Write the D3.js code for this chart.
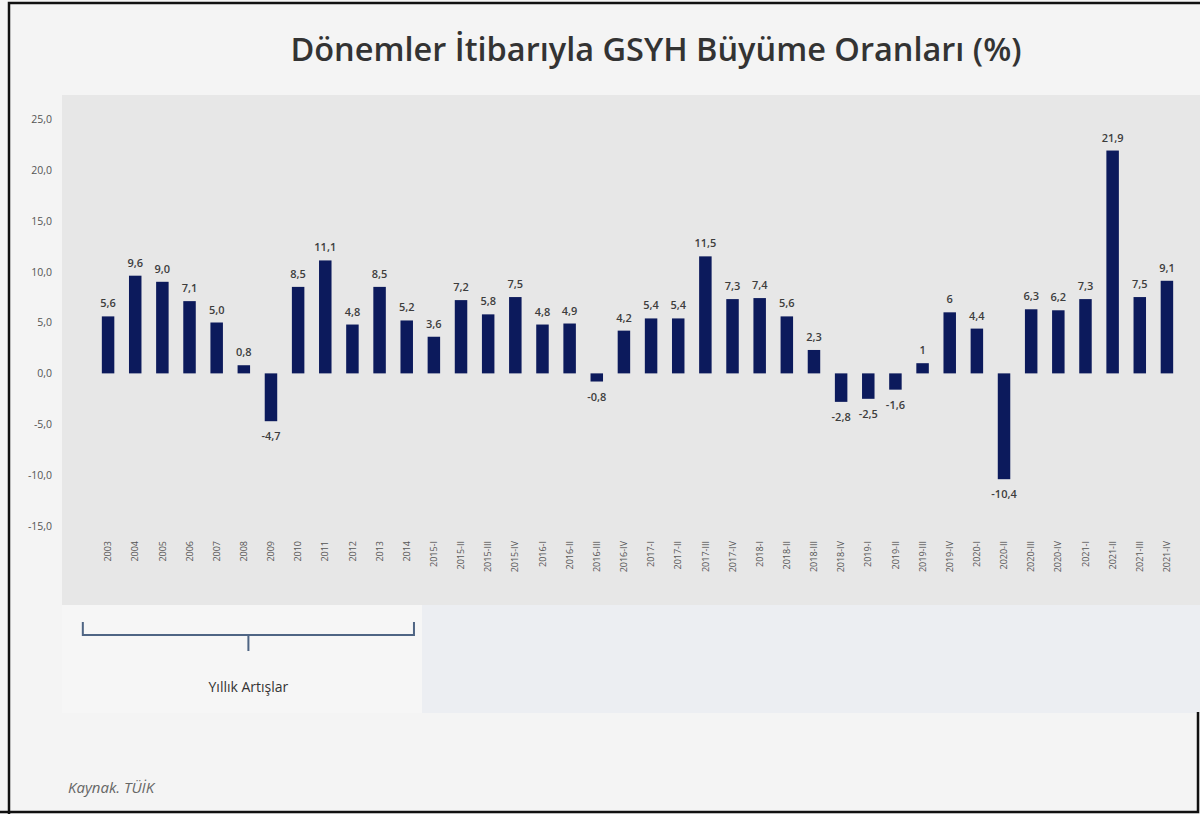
<!DOCTYPE html>
<html>
<head>
<meta charset="utf-8">
<script src="https://cdn.jsdelivr.net/npm/d3@7"></script>
<style>
  body { margin: 0; background: #f4f4f4; }
  svg { display: block; font-family: "Open Sans", sans-serif; }
</style>
</head>
<body>
<div id="container"></div>
<script>
/* CONSTANTS AND GLOBALS */
const width = 1200,
  height = 814

// periods: yearly up to 2014, then quarters
const periods = ["2003", "2004", "2005", "2006", "2007", "2008", "2009", "2010", "2011", "2012", "2013", "2014",
  "2015-I", "2015-II", "2015-III", "2015-IV",
  "2016-I", "2016-II", "2016-III", "2016-IV",
  "2017-I", "2017-II", "2017-III", "2017-IV",
  "2018-I", "2018-II", "2018-III", "2018-IV",
  "2019-I", "2019-II", "2019-III", "2019-IV",
  "2020-I", "2020-II", "2020-III", "2020-IV",
  "2021-I", "2021-II", "2021-III", "2021-IV"]

const growth = [5.6, 9.6, 9.0, 7.1, 5.0, 0.8, -4.7, 8.5, 11.1, 4.8, 8.5, 5.2,
  3.6, 7.2, 5.8, 7.5,
  4.8, 4.9, -0.8, 4.2,
  5.4, 5.4, 11.5, 7.3,
  7.4, 5.6, 2.3, -2.8,
  -2.5, -1.6, 1, 6,
  4.4, -10.4, 6.3, 6.2,
  7.3, 21.9, 7.5, 9.1]

// how each value is printed above / below its bar
const valueLabels = ["5,6", "9,6", "9,0", "7,1", "5,0", "0,8", "-4,7", "8,5", "11,1", "4,8", "8,5", "5,2",
  "3,6", "7,2", "5,8", "7,5",
  "4,8", "4,9", "-0,8", "4,2",
  "5,4", "5,4", "11,5", "7,3",
  "7,4", "5,6", "2,3", "-2,8",
  "-2,5", "-1,6", "1", "6",
  "4,4", "-10,4", "6,3", "6,2",
  "7,3", "21,9", "7,5", "9,1"]

const yTicks = [-15, -10, -5, 0, 5, 10, 15, 20, 25]
const yearlyGroup = ["2003", "2014"]

const data = periods.map((p, i) => ({ period: p, value: growth[i], label: valueLabels[i] }))

// + CREATE SVG ELEMENT
const svg = d3.select("#container")
  .append("svg")
  .attr("width", width)
  .attr("height", height)

// background panels (slide look)
svg.append("rect").attr("x", 0).attr("y", 0).attr("width", width).attr("height", height).attr("fill", "#f4f4f4")
svg.append("rect").attr("x", 62).attr("y", 95).attr("width", 1138).attr("height", 618).attr("fill", "#eceef2")
svg.append("rect").attr("x", 62).attr("y", 605).attr("width", 360).attr("height", 108).attr("fill", "#f6f6f6")
svg.append("rect").attr("x", 62).attr("y", 95).attr("width", 1138).attr("height", 510).attr("fill", "#e7e7e7")

// frame
svg.append("path")
  .attr("d", "M9,814 V3 H1200")
  .attr("fill", "none").attr("stroke", "#111").attr("stroke-width", 2.5)
svg.append("path")
  .attr("d", "M0,812 H1198 V712")
  .attr("fill", "none").attr("stroke", "#111").attr("stroke-width", 2.5)

// + TITLE
svg.append("text")
  .attr("x", 656)
  .attr("y", 61)
  .attr("text-anchor", "middle")
  .attr("font-size", 32.5)
  .attr("font-weight", 600)
  .attr("fill", "#333")
  .text("Dönemler İtibarıyla GSYH Büyüme Oranları (%)")

// + SCALES
const xScale = d3.scaleBand()
  .domain(periods)
  .range([94.5, 1180.5])
  .paddingInner(0.54)
  .paddingOuter(0.27)

const yScale = d3.scaleLinear()
  .domain([-15, 25])
  .range([526, 119])

// + AXES
const yAxis = d3.axisLeft(yScale)
  .tickValues(yTicks)
  .tickSize(0)
  .tickPadding(0)
  .tickFormat(d => d3.format(".1f")(d).replace(".", ",").replace("−", "-"))

const yAxisGroup = svg.append("g")
  .attr("class", "yAxis")
  .attr("transform", `translate(${52}, ${0})`)
  .call(yAxis)
yAxisGroup.select(".domain").remove()
yAxisGroup.selectAll("text")
  .attr("font-size", 10.5)
  .attr("font-family", "Open Sans, sans-serif")
  .attr("fill", "#555")

const xAxis = d3.axisBottom(xScale).tickSize(0).tickPadding(0)
const xAxisGroup = svg.append("g")
  .attr("class", "xAxis")
  .attr("transform", `translate(${0}, ${541})`)
  .call(xAxis)
xAxisGroup.select(".domain").remove()
xAxisGroup.selectAll("text")
  .attr("transform", "rotate(-90)")
  .attr("x", 0)
  .attr("y", 0)
  .attr("dy", "0.35em")
  .attr("text-anchor", "end")
  .attr("font-size", 9)
  .attr("font-family", "Open Sans, sans-serif")
  .attr("fill", "#555")

// + DRAW BARS
svg.selectAll("rect.bar")
  .data(data)
  .join("rect")
  .attr("class", "bar")
  .attr("x", d => xScale(d.period))
  .attr("width", xScale.bandwidth())
  .attr("y", d => yScale(Math.max(0, d.value)))
  .attr("height", d => Math.abs(yScale(d.value) - yScale(0)))
  .attr("fill", "#0c1a5c")

// + VALUE LABELS
svg.selectAll("text.value")
  .data(data)
  .join("text")
  .attr("class", "value")
  .attr("x", d => xScale(d.period) + xScale.bandwidth() / 2)
  .attr("y", d => d.value >= 0 ? yScale(d.value) - 9 : yScale(d.value) + 19)
  .attr("text-anchor", "middle")
  .attr("font-size", 11)
  .attr("font-weight", 600)
  .attr("fill", "#3d3d3d")
  .text(d => d.label)

// + BRACKET FOR YEARLY VALUES
const bx0 = xScale(yearlyGroup[0]) - 19,
  bx1 = xScale(yearlyGroup[1]) + xScale.bandwidth() + 1,
  bMid = (bx0 + bx1) / 2
svg.append("path")
  .attr("d", `M${bx0},622 V635 H${bx1} V622 M${bMid},635 V651`)
  .attr("fill", "none")
  .attr("stroke", "#4f6584")
  .attr("stroke-width", 2)

svg.append("text")
  .attr("x", bMid)
  .attr("y", 692)
  .attr("text-anchor", "middle")
  .attr("font-size", 14)
  .attr("fill", "#333")
  .text("Yıllık Artışlar")

// + SOURCE
svg.append("text")
  .attr("x", 68)
  .attr("y", 793)
  .attr("font-size", 15)
  .attr("font-style", "italic")
  .attr("fill", "#666")
  .text("Kaynak. TÜİK")
</script>
</body>
</html>
